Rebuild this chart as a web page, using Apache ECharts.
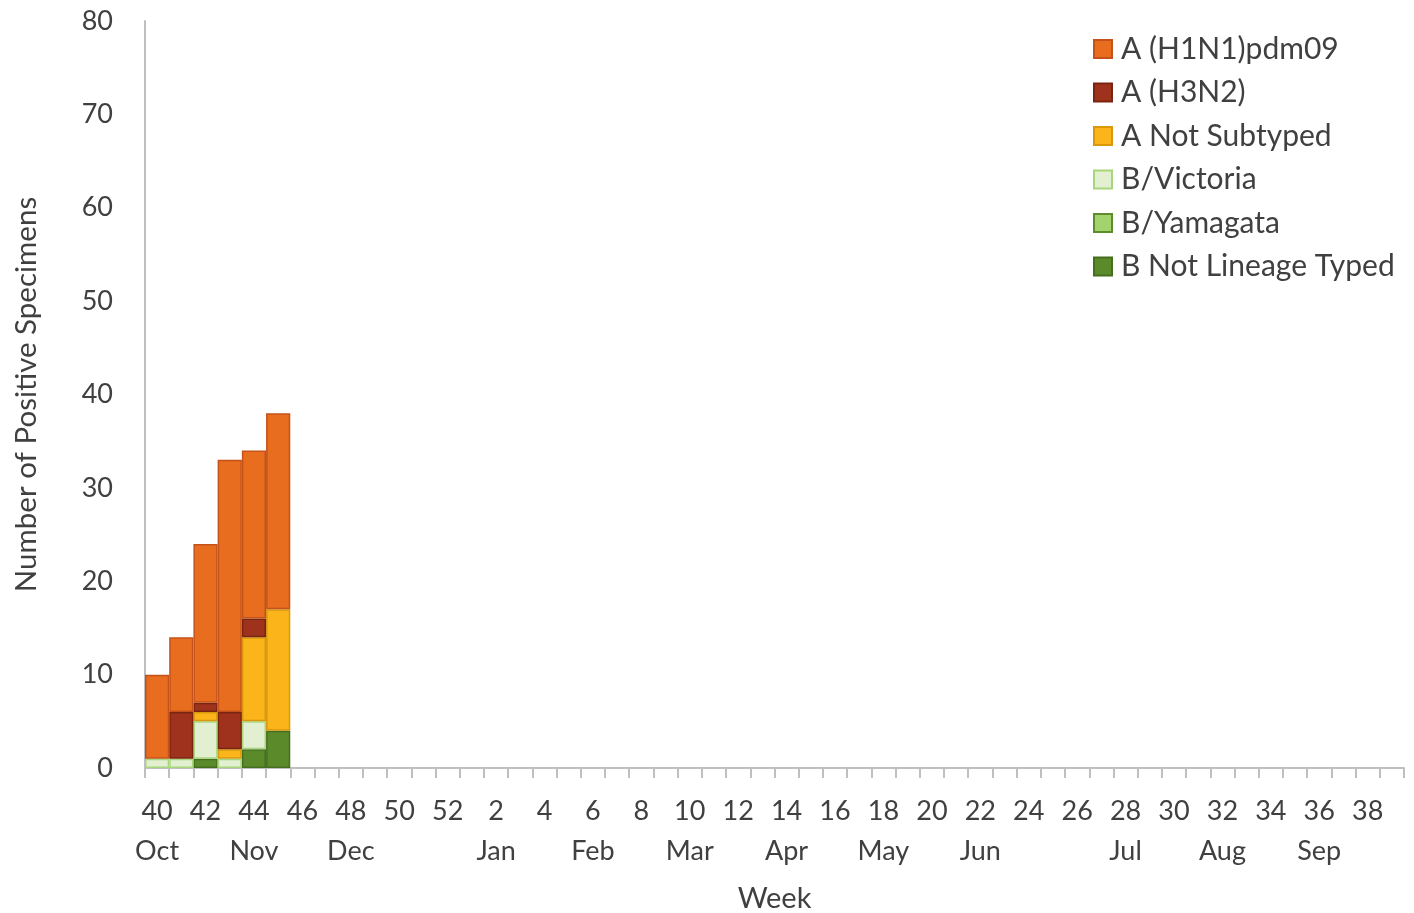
<!DOCTYPE html>
<html><head><meta charset="utf-8">
<script src="https://cdn.jsdelivr.net/npm/echarts@6/dist/echarts.min.js"></script>
<style>html,body{margin:0;padding:0;background:#fff}#c{width:1414px;height:913px}</style>
</head><body><div id="c"></div>
<script>
const weeks = ['40','41','42','43','44','45','46','47','48','49','50','51','52','1','2','3','4','5','6','7','8','9','10','11','12','13','14','15','16','17','18','19','20','21','22','23','24','25','26','27','28','29','30','31','32','33','34','35','36','37','38','39'];
const monthLabels = {'40':'Oct','44':'Nov','48':'Dec','2':'Jan','6':'Feb','10':'Mar','14':'Apr','18':'May','22':'Jun','28':'Jul','32':'Aug','36':'Sep'};
const h1n1 = [9,8,17,27,18,21];
const h3n2 = [0,5,1,4,2,0];
const aNotSubtyped = [0,0,1,1,9,13];
const bVictoria = [1,1,4,1,3,0];
const bYamagata = [0,0,0,0,0,0];
const bNotLineage = [0,0,1,0,2,4];
const yTicks = {min:0, max:80, interval:10};

const font = 'Lato, "Noto Sans", sans-serif';
function pad(arr){ const a = arr.map(v => v === 0 ? null : v); while(a.length<weeks.length) a.push(null); return a; }
function mk(name, data, color, border){
  return {name, type:'bar', stack:'s', data:pad(data), barCategoryGap:'0%',
    itemStyle:{color, borderColor:border, borderWidth:1.5}, emphasis:{disabled:true}};
}
const series = [
  mk('B Not Lineage Typed', bNotLineage, '#5A8A2A', '#466E1F'),
  mk('B/Yamagata', bYamagata, '#A3D36C', '#5E8B2D'),
  mk('B/Victoria', bVictoria, '#E2EFD1', '#A8D67C'),
  mk('A Not Subtyped', aNotSubtyped, '#FBB51A', '#D8980C'),
  mk('A (H3N2)', h3n2, '#9E321C', '#7A2410'),
  mk('A (H1N1)pdm09', h1n1, '#E86D1F', '#C4521A')
];
const chart = echarts.init(document.getElementById('c'));
chart.setOption({
  animation:false,
  textStyle:{fontFamily:font},
  grid:{left:145, right:10, top:21, bottom:145, containLabel:false, outerBoundsMode:'none'},
  legend:{
    orient:'vertical', left:1088, top:29, itemWidth:18, itemHeight:18, itemGap:13.5,
    data:['A (H1N1)pdm09','A (H3N2)','A Not Subtyped','B/Victoria','B/Yamagata','B Not Lineage Typed'],
    textStyle:{fontSize:30, lineHeight:30, color:'#404040', fontFamily:font, padding:[0,0,0,4]},
    icon:'rect'
  },
  xAxis:{
    type:'category', data:weeks,
    name:'Week', nameLocation:'middle', nameGap:116,
    nameTextStyle:{fontSize:29, color:'#404040', fontFamily:font},
    axisLine:{lineStyle:{color:'#BFBFBF', width:2}},
    axisTick:{show:true, interval:0, length:10, lineStyle:{color:'#BFBFBF', width:2}},
    axisLabel:{interval:1, color:'#404040', fontSize:27, fontFamily:font, margin:23, lineHeight:40,
      formatter:(v)=> v + '\n' + (monthLabels[v]||' ')}
  },
  yAxis:{
    type:'value', min:yTicks.min, max:yTicks.max, interval:yTicks.interval,
    name:'Number of Positive Specimens', nameLocation:'middle', nameGap:104,
    nameTextStyle:{fontSize:29.5, color:'#404040', fontFamily:font},
    axisLine:{show:true, lineStyle:{color:'#BFBFBF', width:2}},
    axisTick:{show:false},
    splitLine:{show:false},
    axisLabel:{color:'#404040', fontSize:27, fontFamily:font, margin:32}
  },
  series
});
</script></body></html>
